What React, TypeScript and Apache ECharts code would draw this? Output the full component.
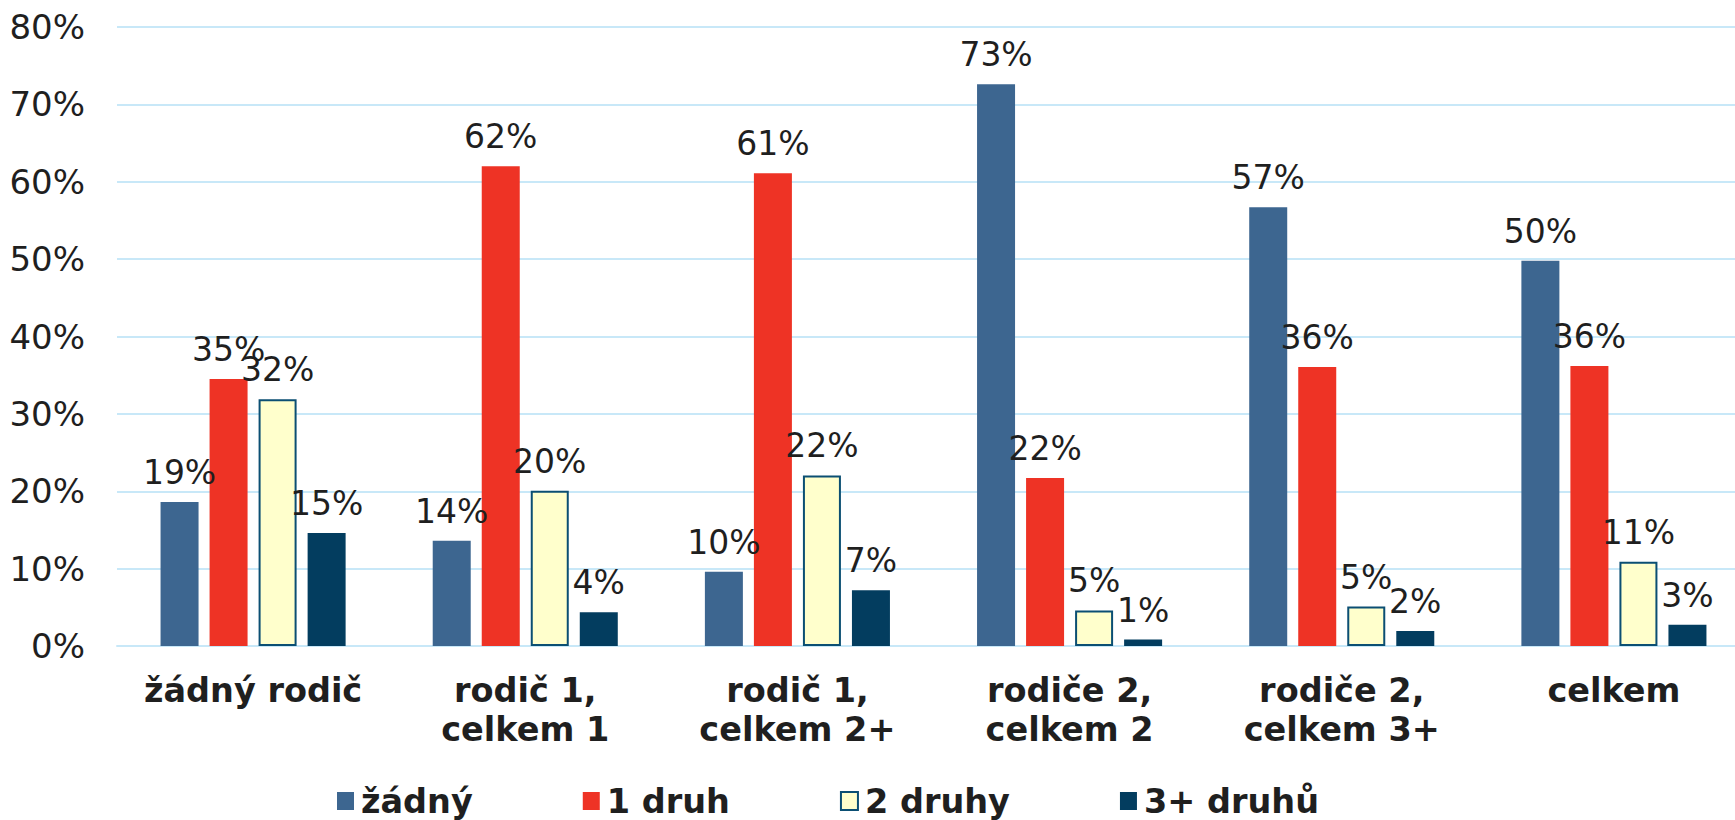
import React, { useEffect, useRef } from "react";
import * as echarts from "echarts";

const categories = [
  "žádný rodič",
  "rodič 1,\ncelkem 1",
  "rodič 1,\ncelkem 2+",
  "rodiče 2,\ncelkem 2",
  "rodiče 2,\ncelkem 3+",
  "celkem",
];
const seriesNames = ["žádný", "1 druh", "2 druhy", "3+ druhů"];
const zadny = [18.6, 13.6, 9.6, 72.6, 56.7, 49.8];
const jedenDruh = [34.5, 62.0, 61.1, 21.7, 36.05, 36.2];
const dvaDruhy = [31.9, 20.05, 22.04, 4.6, 5.1, 10.9];
const triDruhy = [14.6, 4.35, 7.2, 0.83, 1.94, 2.76];
const yTicks = [0, 10, 20, 30, 40, 50, 60, 70, 80];

const FONT = "'DejaVu Sans', Verdana, sans-serif";
const TEXT = "#1f1f1f";

export default function App() {
  const ref = useRef<HTMLDivElement>(null);
  useEffect(() => {
    document.body.style.margin = "0";
    if (!ref.current) return;
    const chart = echarts.init(ref.current, undefined, { renderer: "svg" });
    const label = {
      show: true,
      position: "top" as const,
      distance: 13,
      fontFamily: FONT,
      fontSize: 33,
      color: TEXT,
      formatter: (p: any) => Math.round(p.value) + "%",
    };
    const mk = (name: string, data: number[], itemStyle: any) => ({
      name,
      type: "bar",
      data,
      barWidth: 38,
      barGap: "29%",
      itemStyle,
      label,
    });
    chart.setOption({
      animation: false,
      backgroundColor: "#ffffff",
      textStyle: { fontFamily: FONT },
      grid: { left: 117, right: 0, top: 27, bottom: 820 - 646, containLabel: false },
      legend: {
        left: 332,
        top: 779,
        itemWidth: 17,
        itemHeight: 18,
        itemGap: 110,
        icon: "rect",
        textStyle: { fontFamily: FONT, fontSize: 33.5, fontWeight: "bold", color: TEXT, padding: [0, 0, 0, 2] },
        data: seriesNames,
      },
      xAxis: {
        type: "category",
        data: categories,
        axisLine: { show: true, lineStyle: { color: "#C8E8F8", width: 2 } },
        axisTick: { show: false },
        axisLabel: {
          fontFamily: FONT,
          fontSize: 33.5,
          fontWeight: "bold",
          color: TEXT,
          lineHeight: 39,
          margin: 25,
          interval: 0,
        },
      },
      yAxis: {
        type: "value",
        min: yTicks[0],
        max: yTicks[yTicks.length - 1],
        interval: 10,
        axisLine: { show: false },
        axisTick: { show: false },
        splitLine: { lineStyle: { color: "#C8E8F8", width: 2 } },
        axisLabel: {
          fontFamily: FONT,
          fontSize: 34,
          color: TEXT,
          margin: 32,
          formatter: (v: number) => v + "%",
        },
      },
      series: [
        mk(seriesNames[0], zadny, { color: "#3D6690" }),
        mk(seriesNames[1], jedenDruh, { color: "#EE3325" }),
        mk(seriesNames[2], dvaDruhy, { color: "#FFFFCC", borderColor: "#0B4F73", borderWidth: 2 }),
        mk(seriesNames[3], triDruhy, { color: "#033D5F" }),
      ],
    });
    return () => chart.dispose();
  }, []);
  return (
    <div style={{ width: 1735, height: 820, overflow: "hidden", position: "relative" }}>
      <div ref={ref} style={{ width: 1750, height: 820 }} />
    </div>
  );
}
